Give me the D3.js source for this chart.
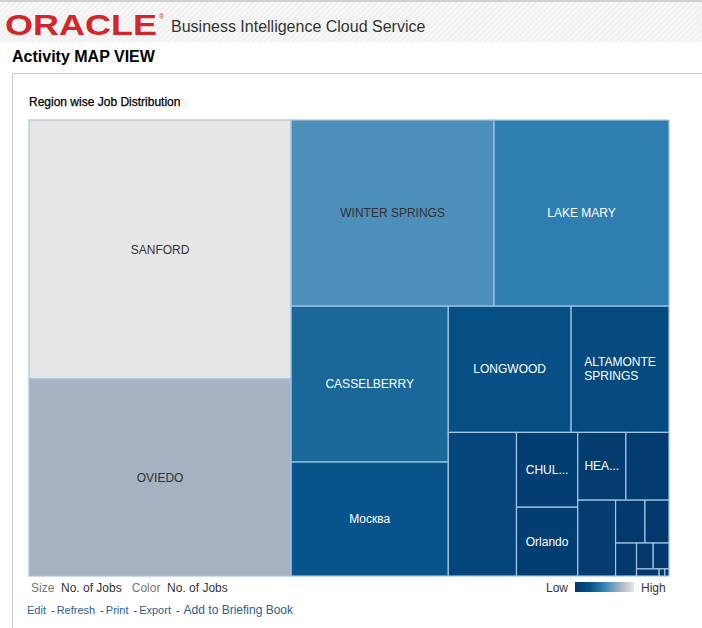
<!DOCTYPE html>
<html lang="en">
<head>
<meta charset="UTF-8">
<title>Activity MAP VIEW</title>
<script src="https://d3js.org/d3.v7.min.js"></script>
<style>
  body { margin: 0; background: #fff; }
  svg { display: block; font-family: "Liberation Sans", Arial, sans-serif; }
</style>
</head>
<body>
<svg width="702" height="628"></svg>
<script>
    // Regions (sorted by No. of Jobs), empty name = label not shown
    const regions = ["SANFORD", "OVIEDO", "WINTER SPRINGS", "LAKE MARY", "CASSELBERRY", "Москва",
        "LONGWOOD", "ALTAMONTE SPRINGS", "", "CHUL...", "Orlando", "HEA...", "", "", "", "", "", "", "", "", "", ""];
    const jobs = [6786, 5161, 3776, 3255, 2449, 1790, 1550, 1235, 979, 458, 421, 326, 292, 287, 126, 103, 69, 43, 41, 16, 4, 3];

    // colour ramp, Low (dark blue) -> High (light grey)
    const colorStops = [0, 1000, 1800, 2500, 3300, 3800, 5200, 6786];
    const colorRange = ["#03386b", "#04467b", "#07548a", "#1c6a9b", "#2f7fb2", "#4f90bb", "#a8b2c2", "#e6e6e6"];

    const sizeLabel = "No. of Jobs";
    const colorLabel = "No. of Jobs";
    const links = ["Edit", "Refresh", "Print", "Export", "Add to Briefing Book"];

    const svg = d3.select("svg");

    // ---- header band with hatch
    const defs = svg.append("defs");
    const pat = defs.append("pattern")
        .attr("id", "hatch")
        .attr("width", 4).attr("height", 4)
        .attr("patternUnits", "userSpaceOnUse")
        .attr("patternTransform", "rotate(45)");
    pat.append("rect").attr("width", 4).attr("height", 4).attr("fill", "#f6f6f6");
    pat.append("line").attr("x1", 0).attr("y1", 0).attr("x2", 0).attr("y2", 4)
        .attr("stroke", "#ececec").attr("stroke-width", 2);

    svg.append("rect").attr("x", 0).attr("y", 0).attr("width", 702).attr("height", 42).attr("fill", "url(#hatch)");
    svg.append("rect").attr("x", 0).attr("y", 0).attr("width", 702).attr("height", 2).attr("fill", "#cfcfcf");

    svg.append("text")
        .attr("x", 5).attr("y", 35)
        .attr("font-size", 30).attr("font-weight", "bold")
        .attr("fill", "#d3262a")
        .attr("textLength", 152).attr("lengthAdjust", "spacingAndGlyphs")
        .text("ORACLE");
    svg.append("text")
        .attr("x", 159).attr("y", 19)
        .attr("font-size", 7).attr("fill", "#d3262a")
        .text("®");
    svg.append("text")
        .attr("x", 171).attr("y", 32)
        .attr("font-size", 16).attr("fill", "#333")
        .text("Business Intelligence Cloud Service");

    svg.append("text")
        .attr("x", 12).attr("y", 62)
        .attr("font-size", 16).attr("font-weight", "bold").attr("fill", "#000")
        .text("Activity MAP VIEW");

    // panel border
    svg.append("path")
        .attr("d", "M12.5,628V73.5H702")
        .attr("fill", "none").attr("stroke", "#cccccc");

    svg.append("text")
        .attr("x", 29).attr("y", 106)
        .attr("font-size", 12).attr("fill", "#000")
        .attr("stroke", "#000").attr("stroke-width", 0.25)
        .text("Region wise Job Distribution");

    // ---- treemap
    const tm = { x: 29, y: 120, w: 640, h: 456 };
    const color = d3.scaleLinear().domain(colorStops).range(colorRange).interpolate(d3.interpolateRgb);

    const rootData = { children: regions.map((r, i) => ({ name: r, value: jobs[i] })) };
    const root = d3.hierarchy(rootData)
        .sum(d => d.value || 0)
        .sort((a, b) => b.value - a.value);

    d3.treemap()
        .tile(d3.treemapSquarify.ratio(1))
        .size([tm.w, tm.h])(root);

    const g = svg.append("g").attr("transform", `translate(${tm.x},${tm.y})`);

    const cell = g.selectAll("g.cell")
        .data(root.leaves())
        .join("g")
        .attr("class", "cell");

    cell.append("rect")
        .attr("x", d => d.x0).attr("y", d => d.y0)
        .attr("width", d => d.x1 - d.x0).attr("height", d => d.y1 - d.y0)
        .attr("fill", d => color(d.data.value))
        .attr("stroke", "#a3c5df").attr("stroke-width", 1.2);

    // labels, wrap to words if too wide
    cell.filter(d => d.data.name).each(function (d) {
        const c = color(d.data.value);
        const fill = d3.hsl(c).l > 0.48 ? "#333" : "#fff";
        const cx = (d.x0 + d.x1) / 2, cy = (d.y0 + d.y1) / 2;
        const t = d3.select(this).append("text")
            .attr("font-size", 12).attr("fill", fill)
            .text(d.data.name);
        const w = t.node().getComputedTextLength();
        if (w > d.x1 - d.x0 - 8 && d.data.name.includes(" ")) {
            const words = d.data.name.split(" ");
            t.text(null);
            const lh = 14;
            const tsp = words.map((wd, i) => t.append("tspan").attr("x", 0).attr("dy", i ? lh : 0).text(wd));
            const maxW = d3.max(tsp, s => s.node().getComputedTextLength());
            const x0 = cx - maxW / 2;
            tsp.forEach(s => s.attr("x", x0));
            t.attr("y", cy - (words.length - 1) * lh / 2 + 4);
        } else {
            t.attr("x", cx).attr("y", cy + 4).attr("text-anchor", "middle");
        }
    });

    // ---- footer: size / color info
    const info = svg.append("text").attr("x", 31).attr("y", 592).attr("font-size", 12);
    info.append("tspan").attr("fill", "#777").text("Size ");
    info.append("tspan").attr("fill", "#333").text(" " + sizeLabel);
    info.append("tspan").attr("fill", "#777").text("   Color ");
    info.append("tspan").attr("fill", "#333").text(" " + colorLabel);
    info.attr("xml:space", "preserve").style("white-space", "pre");

    // legend gradient
    const grad = defs.append("linearGradient").attr("id", "lowhigh");
    colorRange.forEach((c, i) => {
        grad.append("stop")
            .attr("offset", (colorStops[i] / colorStops[colorStops.length - 1]) * 100 + "%")
            .attr("stop-color", c);
    });
    svg.append("text").attr("x", 568).attr("y", 592).attr("text-anchor", "end")
        .attr("font-size", 12).attr("fill", "#333").text("Low");
    svg.append("rect").attr("x", 575).attr("y", 582).attr("width", 59).attr("height", 10)
        .attr("fill", "url(#lowhigh)");
    svg.append("text").attr("x", 641).attr("y", 592)
        .attr("font-size", 12).attr("fill", "#333").text("High");

    // links row
    let lx = 27;
    links.forEach((l, i) => {
        const fs = i === links.length - 1 ? 12 : 11;
        if (i > 0) {
            const dash = svg.append("text").attr("x", lx + 4).attr("y", 614)
                .attr("font-size", 11).attr("fill", "#333").text("-");
            lx += 4 + dash.node().getComputedTextLength() + (i === links.length - 1 ? 4 : 2);
        }
        const t = svg.append("text").attr("x", lx).attr("y", 614)
            .attr("font-size", fs).attr("fill", "#2d5d8e").text(l);
        lx += t.node().getComputedTextLength() + 1;
    });
</script>
</body>
</html>
